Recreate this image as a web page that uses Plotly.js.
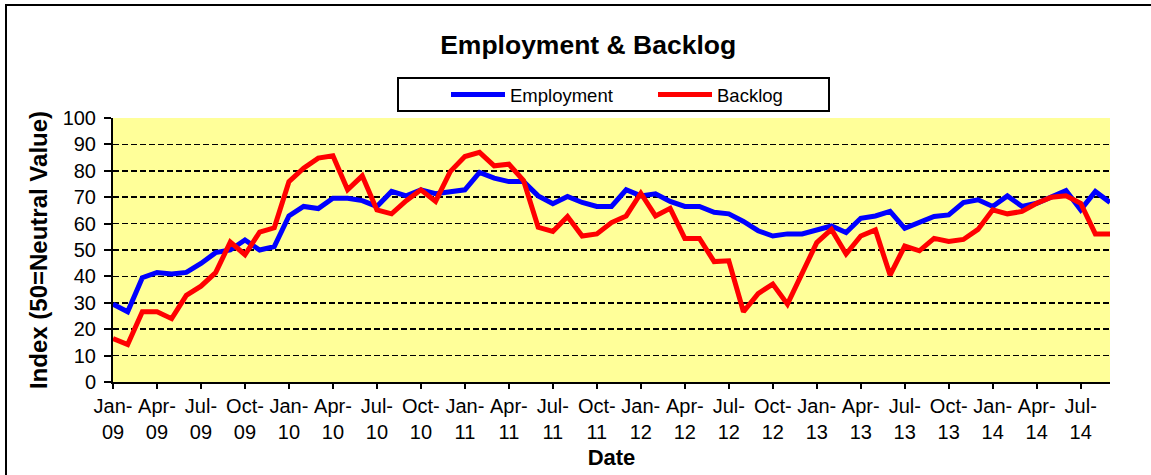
<!DOCTYPE html>
<html>
<head>
<meta charset="utf-8">
<script src="https://cdn.plot.ly/plotly-3.0.1.min.js"></script>
<style>
  html, body { margin: 0; padding: 0; background: #ffffff; overflow: hidden; }
  #chart { width: 1151px; height: 475px; }
</style>
</head>
<body>
<div id="chart"></div>
<script>
const months = [
  "Jan-09","Feb-09","Mar-09","Apr-09","May-09","Jun-09","Jul-09","Aug-09","Sep-09","Oct-09","Nov-09","Dec-09",
  "Jan-10","Feb-10","Mar-10","Apr-10","May-10","Jun-10","Jul-10","Aug-10","Sep-10","Oct-10","Nov-10","Dec-10",
  "Jan-11","Feb-11","Mar-11","Apr-11","May-11","Jun-11","Jul-11","Aug-11","Sep-11","Oct-11","Nov-11","Dec-11",
  "Jan-12","Feb-12","Mar-12","Apr-12","May-12","Jun-12","Jul-12","Aug-12","Sep-12","Oct-12","Nov-12","Dec-12",
  "Jan-13","Feb-13","Mar-13","Apr-13","May-13","Jun-13","Jul-13","Aug-13","Sep-13","Oct-13","Nov-13","Dec-13",
  "Jan-14","Feb-14","Mar-14","Apr-14","May-14","Jun-14","Jul-14","Aug-14","Sep-14"
];

const employment = [
  29.5, 26.6, 39.5, 41.5, 40.9, 41.5, 44.9, 49.0, 50.0, 53.8, 50.0, 51.3,
  62.9, 66.5, 65.7, 69.6, 69.6, 68.7, 66.5, 72.2, 70.5, 72.8, 71.3, 72.2,
  72.8, 79.4, 77.2, 75.9, 75.9, 70.5, 67.5, 70.3, 68.0, 66.5, 66.5, 72.8,
  70.5, 71.3, 68.4, 66.5, 66.5, 64.3, 63.7, 60.8, 57.3, 55.3, 56.1, 56.1,
  57.6, 59.1, 56.6, 62.0, 62.9, 64.6, 58.2, 60.4, 62.7, 63.3, 68.0, 69.0,
  66.5, 70.5, 66.5, 67.7, 70.0, 72.5, 65.2, 72.2, 68.0
];

const backlog = [
  16.5, 14.2, 26.6, 26.6, 24.0, 32.8, 36.3, 41.4, 53.0, 48.2, 56.8, 58.4,
  75.9, 81.0, 84.8, 85.7, 72.8, 78.1, 65.2, 63.7, 68.7, 72.8, 68.4, 79.7,
  85.4, 87.0, 81.9, 82.5, 76.3, 58.6, 57.0, 62.7, 55.3, 56.1, 60.4, 62.9,
  71.5, 62.9, 65.8, 54.4, 54.4, 45.6, 45.9, 26.6, 33.5, 37.1, 29.5, 41.4,
  52.8, 57.8, 48.5, 55.3, 57.6, 40.5, 51.5, 49.7, 54.4, 53.2, 54.0, 57.8,
  65.2, 63.7, 64.6, 67.7, 70.0, 70.5, 67.7, 56.1, 56.1
];

const seriesNames = ["Employment", "Backlog"];
const yTicks = [0, 10, 20, 30, 40, 50, 60, 70, 80, 90, 100];

// every third month gets a label, split over two lines
const tickVals = months.filter((m, i) => i % 3 === 0);
const tickText = tickVals.map(m => m.replace("-", "-<br>"));

const FONT = "Liberation Sans, Arial, Helvetica, sans-serif";

// plot-area geometry in pixels (used only to convert frame/legend box to paper units)
const L = 113, R = 1110, T = 118, B = 382;
const px = v => (v - L) / (R - L);
const py = v => (B - v) / (B - T);

const traces = [
  { x: months, y: employment, name: seriesNames[0], type: "scatter", mode: "lines",
    line: { color: "#0000FF", width: 5 } },
  { x: months, y: backlog, name: seriesNames[1], type: "scatter", mode: "lines",
    line: { color: "#FF0000", width: 5 } }
];

const layout = {
  width: 1151, height: 475,
  margin: { l: L, r: 1151 - R, t: T, b: 475 - B, pad: 0 },
  paper_bgcolor: "rgba(0,0,0,0)",
  plot_bgcolor: "#FFFF99",
  font: { family: FONT, color: "#000000", size: 20 },
  showlegend: true,
  title: {
    text: "<b>Employment &amp; Backlog</b>",
    font: { family: FONT, size: 26.5, color: "#000000" },
    x: 0.511, xanchor: "center",
    y: 1 - 45 / 475, yanchor: "middle", yref: "container"
  },
  legend: {
    orientation: "h",
    x: px(446), xanchor: "left",
    y: py(95), yanchor: "middle",
    bgcolor: "rgba(0,0,0,0)",
    borderwidth: 0,
    font: { family: FONT, size: 18.5, color: "#000000" },
    entrywidth: 138,
    itemwidth: 54,
    traceorder: "normal"
  },
  xaxis: {
    type: "category",
    categoryorder: "array",
    categoryarray: months,
    range: [0, months.length - 1],
    tickmode: "array",
    tickvals: tickVals,
    ticktext: tickText,
    tickangle: 0,
    ticks: "outside", ticklen: 5, tickwidth: 2, tickcolor: "#000000",
    showline: true, linecolor: "#000000", linewidth: 2,
    showgrid: false, zeroline: false,
    tickfont: { family: FONT, size: 20, color: "#000000" },
    title: { text: "<b>Date</b>", font: { family: FONT, size: 22, color: "#000000" }, standoff: 8 },
    fixedrange: true
  },
  yaxis: {
    range: [0, 100],
    tickmode: "array",
    tickvals: yTicks,
    ticks: "outside", ticklen: 7, tickwidth: 2, tickcolor: "#000000",
    ticklabelstandoff: 4,
    showline: true, linecolor: "#000000", linewidth: 2,
    showgrid: true, gridcolor: "#000000", gridwidth: 1.5, griddash: "6px,3px",
    zeroline: false,
    tickfont: { family: FONT, size: 20, color: "#000000" },
    title: { text: "<b>Index (50=Neutral Value)</b>", font: { family: FONT, size: 24, color: "#000000" }, standoff: 8 },
    fixedrange: true
  },
  shapes: [
    // outer chart frame
    { type: "rect", xref: "paper", yref: "paper",
      x0: px(6), x1: px(1170), y0: py(500), y1: py(5),
      line: { color: "#000000", width: 2 }, fillcolor: "rgba(0,0,0,0)", layer: "below" },
    // legend box
    { type: "rect", xref: "paper", yref: "paper",
      x0: px(398), x1: px(829), y0: py(111), y1: py(78),
      line: { color: "#000000", width: 2 }, fillcolor: "#FFFFFF", layer: "below" }
  ]
};

Plotly.newPlot("chart", traces, layout, { displayModeBar: false, staticPlot: true });
</script>
</body>
</html>
